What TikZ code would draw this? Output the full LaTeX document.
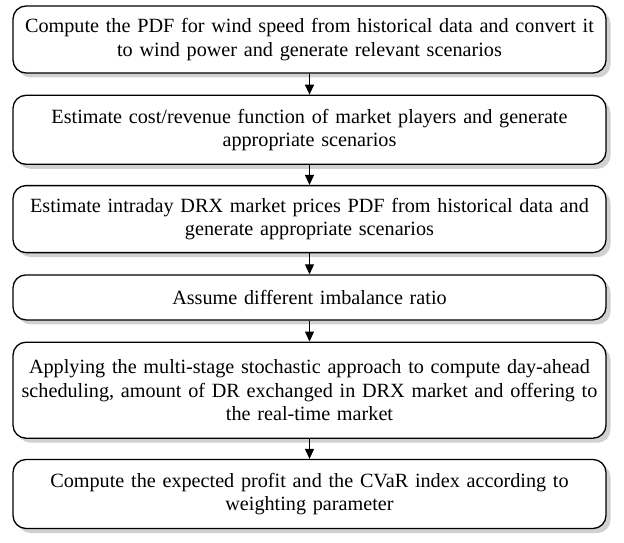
\documentclass[tikz,border=0pt]{standalone}
\usepackage{fontspec}
\setmainfont{Liberation Serif}
\usetikzlibrary{positioning,shadows,arrows.meta}
\begin{document}
\begin{tikzpicture}[x=1pt,y=-1pt,node distance=20pt,
	thick,proc box/.style = {rectangle,draw,rounded corners=13pt,fill=white,
		line width=1.3pt,minimum width=593pt,text width=590pt,align=center,
		inner sep=0pt,font=\fontsize{20.2}{23.5}\selectfont,
		drop shadow={shadow xshift=4.5pt,shadow yshift=-4.5pt,fill=black!18,opacity=1}},
	flow/.style = {-{Triangle[length=10pt,width=9pt]},line width=1.2pt}]
	\useasboundingbox (0,0) rectangle (624,543);
	
	\node[proc box,minimum height=67pt] at (309.5,39.5) (wind) {Compute the PDF for wind speed from historical data and convert it\\to wind power and generate relevant scenarios};
	\node[proc box,minimum height=69pt] [below=21pt of wind](cost) {Estimate cost/revenue function of market players and generate\\appropriate scenarios};
	\node[proc box,minimum height=67pt] [below=20pt of cost](drx) {Estimate intraday DRX market prices PDF from historical data and\\generate appropriate scenarios};
	\node[proc box,minimum height=45pt] [below=21pt of drx](ratio) {Assume different imbalance ratio};
	\node[proc box,minimum height=96pt] [below=21pt of ratio](stoch) {Applying the multi-stage stochastic approach to compute day-ahead\\scheduling, amount of DR exchanged in DRX market and offering to\\the real-time market};
	\node[proc box,minimum height=69pt] [below=20pt of stoch](cvar) {Compute the expected profit and the CVaR index according to\\weighting parameter};
	
	\draw[flow] (wind) -- (cost);
	\draw[flow] (cost) -- (drx);
	\draw[flow] (drx) -- (ratio);
	\draw[flow] (ratio) -- (stoch);
	\draw[flow] (stoch) -- (cvar);
	
\end{tikzpicture}
\end{document}
